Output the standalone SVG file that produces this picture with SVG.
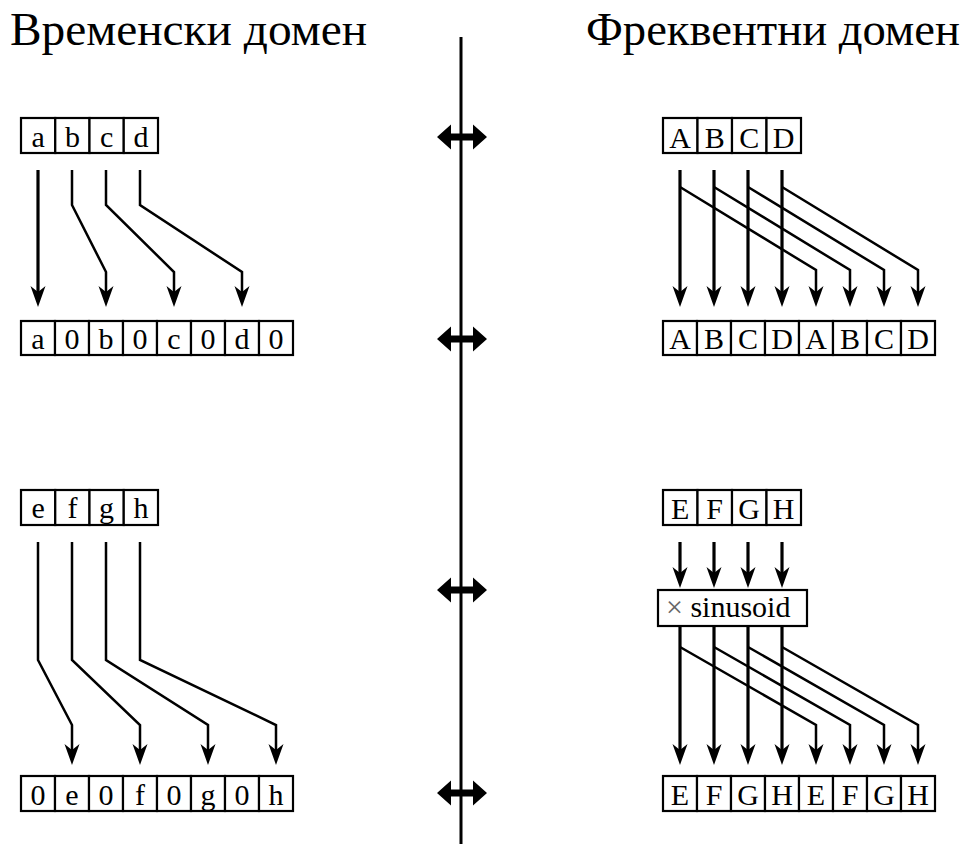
<svg xmlns="http://www.w3.org/2000/svg" xmlns:xlink="http://www.w3.org/1999/xlink" width="972" height="844" viewBox="0 0 972 844">
<style>
.cell{fill:#fff;stroke:#000;stroke-width:2.2}
.t{font-family:"Liberation Serif","Times New Roman",serif;font-size:30px;text-anchor:middle;fill:#000}
.title{font-family:"Liberation Serif","Times New Roman",serif;font-size:47px;fill:#000}
.c3{fill:none;stroke:#000;stroke-width:3.2;marker-end:url(#ah)}
.c2{fill:none;stroke:#000;stroke-width:2.5;marker-end:url(#ah)}
</style>
<defs>
<marker id="ah" markerUnits="userSpaceOnUse" markerWidth="30" markerHeight="20" viewBox="0 0 30 20" refX="14" refY="10" orient="auto" overflow="visible">
<path d="M22,10 L1,2.5 L7,10 L1,17.5 Z" fill="#000"/>
</marker>
<path id="dbl" d="M-25,0 L-11,-12.5 L-11,-3.5 L11,-3.5 L11,-12.5 L25,0 L11,12.5 L11,3.5 L-11,3.5 L-11,12.5 Z" fill="#000"/>
</defs>
<rect width="972" height="844" fill="#fff"/>

<g id="titles">
<text class="title" x="10" y="45" textLength="357" lengthAdjust="spacingAndGlyphs">Временски домен</text>
<text class="title" x="586" y="45" textLength="374" lengthAdjust="spacingAndGlyphs">Фреквентни домен</text>
</g>

<g id="divider">
<line x1="461" y1="37" x2="461" y2="844" stroke="#000" stroke-width="3"/>
<use xlink:href="#dbl" x="462" y="137"/>
<use xlink:href="#dbl" x="462" y="339"/>
<use xlink:href="#dbl" x="462" y="590"/>
<use xlink:href="#dbl" x="462" y="793"/>
</g>

<g id="connectors">
<path class="c3" d="M38,170 V299"/>
<path class="c2" d="M72,170 V205 L106,272 V299"/>
<path class="c2" d="M106,170 V205 L174,272 V299"/>
<path class="c2" d="M140,170 V205 L242,272 V299"/>

<path class="c3" d="M680,170 V299"/>
<path class="c3" d="M714,170 V299"/>
<path class="c3" d="M748,170 V299"/>
<path class="c3" d="M782,170 V299"/>
<path class="c2" d="M680,187 L816,270 V299"/>
<path class="c2" d="M714,187 L850,270 V299"/>
<path class="c2" d="M748,187 L884,270 V299"/>
<path class="c2" d="M782,187 L918,270 V299"/>

<path class="c2" d="M38,542 V660 L72,725 V757"/>
<path class="c2" d="M72,542 V660 L140,725 V757"/>
<path class="c2" d="M106,542 V660 L208,725 V757"/>
<path class="c2" d="M140,542 V660 L276,725 V757"/>

<path class="c3" d="M680,542 V580"/>
<path class="c3" d="M714,542 V580"/>
<path class="c3" d="M748,542 V580"/>
<path class="c3" d="M782,542 V580"/>
<path class="c3" d="M680,626 V757"/>
<path class="c3" d="M714,626 V757"/>
<path class="c3" d="M748,626 V757"/>
<path class="c3" d="M782,626 V757"/>
<path class="c2" d="M680,647 L816,725 V757"/>
<path class="c2" d="M714,647 L850,725 V757"/>
<path class="c2" d="M748,647 L884,725 V757"/>
<path class="c2" d="M782,647 L918,725 V757"/>
</g>

<g id="abcd">
<rect class="cell" x="21" y="118" width="34.25" height="35"/>
<rect class="cell" x="55.25" y="118" width="34.25" height="35"/>
<rect class="cell" x="89.5" y="118" width="34.25" height="35"/>
<rect class="cell" x="123.75" y="118" width="34.25" height="35"/>
<text class="t" x="38.1" y="147">a</text>
<text class="t" x="72.4" y="147">b</text>
<text class="t" x="106.6" y="147">c</text>
<text class="t" x="140.9" y="147">d</text>
</g>

<g id="a0b0c0d0">
<rect class="cell" x="21" y="321" width="34" height="34"/>
<rect class="cell" x="55" y="321" width="34" height="34"/>
<rect class="cell" x="89" y="321" width="34" height="34"/>
<rect class="cell" x="123" y="321" width="34" height="34"/>
<rect class="cell" x="157" y="321" width="34" height="34"/>
<rect class="cell" x="191" y="321" width="34" height="34"/>
<rect class="cell" x="225" y="321" width="34" height="34"/>
<rect class="cell" x="259" y="321" width="34" height="34"/>
<text class="t" x="38" y="349">a</text>
<text class="t" x="72" y="349">0</text>
<text class="t" x="106" y="349">b</text>
<text class="t" x="140" y="349">0</text>
<text class="t" x="174" y="349">c</text>
<text class="t" x="208" y="349">0</text>
<text class="t" x="242" y="349">d</text>
<text class="t" x="276" y="349">0</text>
</g>

<g id="ABCD">
<rect class="cell" x="663" y="118" width="34.5" height="35"/>
<rect class="cell" x="697.5" y="118" width="34.5" height="35"/>
<rect class="cell" x="732" y="118" width="34.5" height="35"/>
<rect class="cell" x="766.5" y="118" width="34.5" height="35"/>
<text class="t" x="680.2" y="148">A</text>
<text class="t" x="714.7" y="148">B</text>
<text class="t" x="749.2" y="148">C</text>
<text class="t" x="783.7" y="148">D</text>
</g>

<g id="ABCDABCD">
<rect class="cell" x="663" y="321" width="34" height="34"/>
<rect class="cell" x="697" y="321" width="34" height="34"/>
<rect class="cell" x="731" y="321" width="34" height="34"/>
<rect class="cell" x="765" y="321" width="34" height="34"/>
<rect class="cell" x="799" y="321" width="34" height="34"/>
<rect class="cell" x="833" y="321" width="34" height="34"/>
<rect class="cell" x="867" y="321" width="34" height="34"/>
<rect class="cell" x="901" y="321" width="34" height="34"/>
<text class="t" x="680" y="349">A</text>
<text class="t" x="714" y="349">B</text>
<text class="t" x="748" y="349">C</text>
<text class="t" x="782" y="349">D</text>
<text class="t" x="816" y="349">A</text>
<text class="t" x="850" y="349">B</text>
<text class="t" x="884" y="349">C</text>
<text class="t" x="918" y="349">D</text>
</g>

<g id="efgh">
<rect class="cell" x="21" y="490" width="34.25" height="35"/>
<rect class="cell" x="55.25" y="490" width="34.25" height="35"/>
<rect class="cell" x="89.5" y="490" width="34.25" height="35"/>
<rect class="cell" x="123.75" y="490" width="34.25" height="35"/>
<text class="t" x="38.1" y="518">e</text>
<text class="t" x="72.4" y="518">f</text>
<text class="t" x="106.6" y="518">g</text>
<text class="t" x="140.9" y="518">h</text>
</g>

<g id="0e0f0g0h">
<rect class="cell" x="21" y="776" width="34" height="35"/>
<rect class="cell" x="55" y="776" width="34" height="35"/>
<rect class="cell" x="89" y="776" width="34" height="35"/>
<rect class="cell" x="123" y="776" width="34" height="35"/>
<rect class="cell" x="157" y="776" width="34" height="35"/>
<rect class="cell" x="191" y="776" width="34" height="35"/>
<rect class="cell" x="225" y="776" width="34" height="35"/>
<rect class="cell" x="259" y="776" width="34" height="35"/>
<text class="t" x="38" y="805">0</text>
<text class="t" x="72" y="805">e</text>
<text class="t" x="106" y="805">0</text>
<text class="t" x="140" y="805">f</text>
<text class="t" x="174" y="805">0</text>
<text class="t" x="208" y="805">g</text>
<text class="t" x="242" y="805">0</text>
<text class="t" x="276" y="805">h</text>
</g>

<g id="EFGH">
<rect class="cell" x="663" y="490" width="34.5" height="35"/>
<rect class="cell" x="697.5" y="490" width="34.5" height="35"/>
<rect class="cell" x="732" y="490" width="34.5" height="35"/>
<rect class="cell" x="766.5" y="490" width="34.5" height="35"/>
<text class="t" x="680.2" y="519">E</text>
<text class="t" x="714.7" y="519">F</text>
<text class="t" x="749.2" y="519">G</text>
<text class="t" x="783.7" y="519">H</text>
</g>

<g id="sinusoid">
<rect class="cell" x="658" y="590" width="149" height="36"/>
<text class="t" x="666" y="617" style="text-anchor:start"><tspan fill="#666">×</tspan> sinusoid</text>
</g>

<g id="EFGHEFGH">
<rect class="cell" x="663" y="776" width="34" height="35"/>
<rect class="cell" x="697" y="776" width="34" height="35"/>
<rect class="cell" x="731" y="776" width="34" height="35"/>
<rect class="cell" x="765" y="776" width="34" height="35"/>
<rect class="cell" x="799" y="776" width="34" height="35"/>
<rect class="cell" x="833" y="776" width="34" height="35"/>
<rect class="cell" x="867" y="776" width="34" height="35"/>
<rect class="cell" x="901" y="776" width="34" height="35"/>
<text class="t" x="680" y="805">E</text>
<text class="t" x="714" y="805">F</text>
<text class="t" x="748" y="805">G</text>
<text class="t" x="782" y="805">H</text>
<text class="t" x="816" y="805">E</text>
<text class="t" x="850" y="805">F</text>
<text class="t" x="884" y="805">G</text>
<text class="t" x="918" y="805">H</text>
</g>
</svg>
